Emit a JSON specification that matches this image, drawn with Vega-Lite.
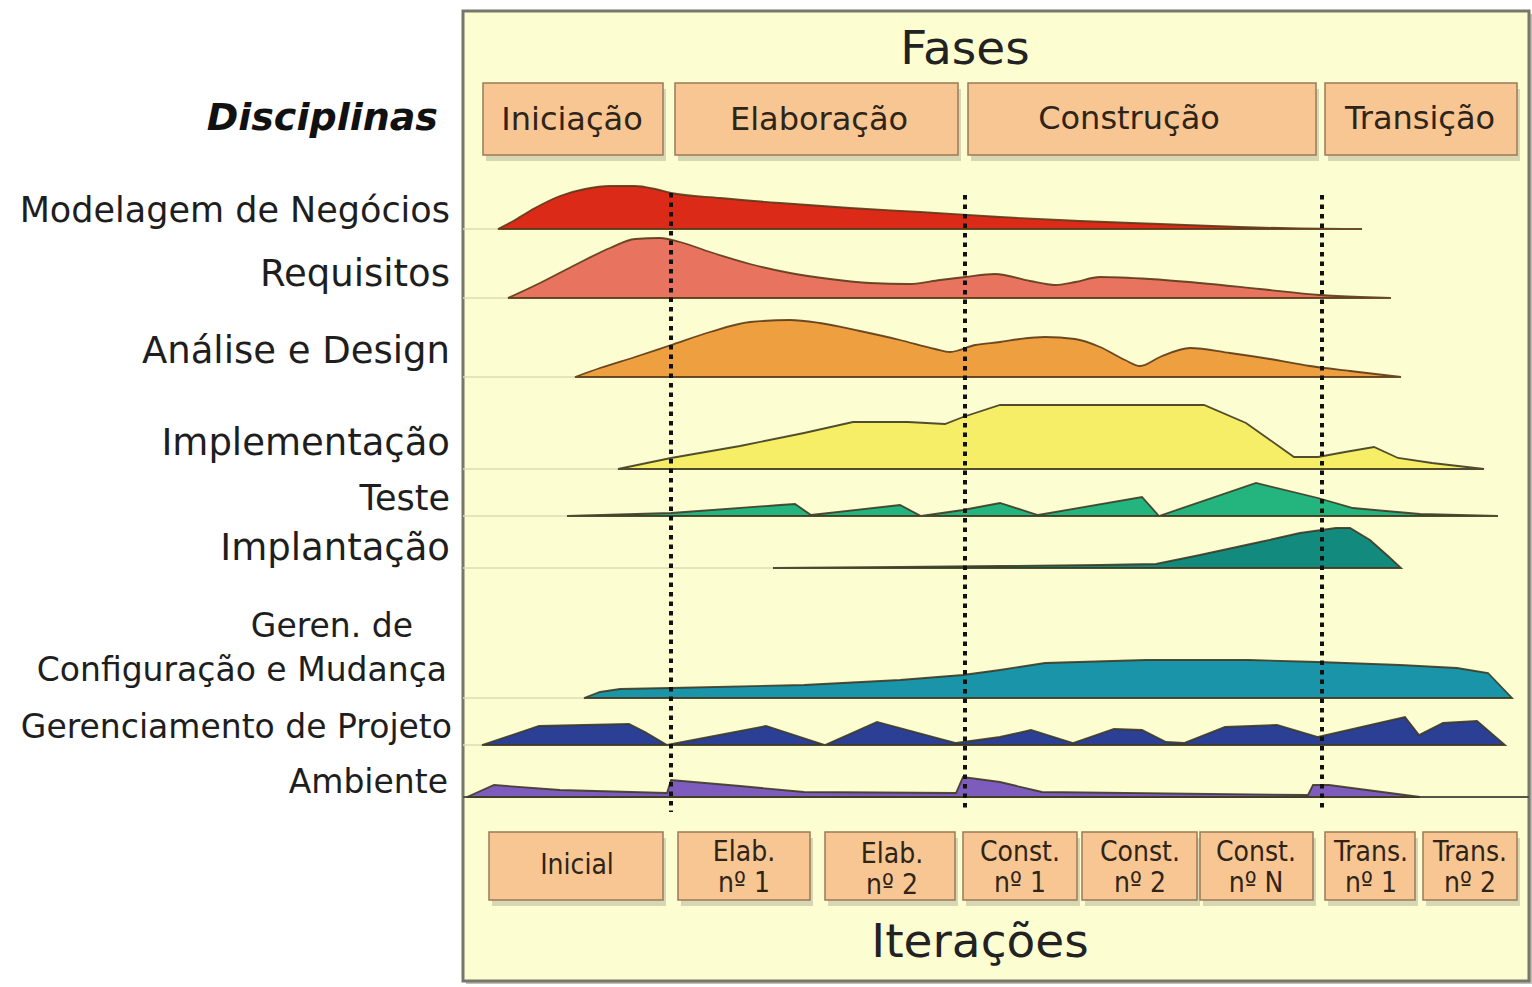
{
  "$schema": "https://vega.github.io/schema/vega-lite/v6.json",
  "width": 1532,
  "height": 987,
  "autosize": {"type": "fit", "contains": "padding"},
  "padding": 0,
  "background": "white",
  "config": {"view": {"stroke": null}},
  "datasets": {
    "frame": [{"t": 463, "t2": 1529, "v": 11, "v2": 981}],
    "separator": [{"t": 463, "t2": 1529, "v": 797}],
    "guides": [
      {"d": "MN", "t": 463, "t2": 498, "v": 229},
      {"d": "RQ", "t": 463, "t2": 508, "v": 298},
      {"d": "AD", "t": 463, "t2": 575, "v": 377},
      {"d": "IM", "t": 463, "t2": 618, "v": 469},
      {"d": "TE", "t": 463, "t2": 567, "v": 516},
      {"d": "IP", "t": 463, "t2": 773, "v": 568},
      {"d": "CM", "t": 463, "t2": 584, "v": 698},
      {"d": "GP", "t": 463, "t2": 482, "v": 745}
    ],
    "milestones": [
      {"t": 671, "v": 193, "v2": 812},
      {"t": 965, "v": 195, "v2": 812},
      {"t": 1322, "v": 195, "v2": 812}
    ],
    "boxes": [
      {"name": "Iniciação", "t": 483, "t2": 663, "v": 83, "v2": 155},
      {"name": "Elaboração", "t": 675, "t2": 958, "v": 83, "v2": 155},
      {"name": "Construção", "t": 968, "t2": 1316, "v": 83, "v2": 155},
      {"name": "Transição", "t": 1325, "t2": 1517, "v": 83, "v2": 155},
      {"name": "Inicial", "t": 489, "t2": 663, "v": 832, "v2": 900},
      {"name": "Elab. 1", "t": 678, "t2": 810, "v": 832, "v2": 900},
      {"name": "Elab. 2", "t": 825, "t2": 955, "v": 832, "v2": 900},
      {"name": "Const. 1", "t": 963, "t2": 1077, "v": 832, "v2": 900},
      {"name": "Const. 2", "t": 1082, "t2": 1197, "v": 832, "v2": 900},
      {"name": "Const. N", "t": 1200, "t2": 1313, "v": 832, "v2": 900},
      {"name": "Trans. 1", "t": 1325, "t2": 1415, "v": 832, "v2": 900},
      {"name": "Trans. 2", "t": 1423, "t2": 1517, "v": 832, "v2": 900}
    ],
    "areas": [
      {"d": "MN", "t": 498, "v": 229, "v2": 229},
      {"d": "MN", "t": 515, "v": 220, "v2": 229},
      {"d": "MN", "t": 535, "v": 208, "v2": 229},
      {"d": "MN", "t": 560, "v": 196, "v2": 229},
      {"d": "MN", "t": 585, "v": 189, "v2": 229},
      {"d": "MN", "t": 610, "v": 186, "v2": 229},
      {"d": "MN", "t": 635, "v": 186, "v2": 229},
      {"d": "MN", "t": 655, "v": 189, "v2": 229},
      {"d": "MN", "t": 671, "v": 193, "v2": 229},
      {"d": "MN", "t": 720, "v": 198, "v2": 229},
      {"d": "MN", "t": 780, "v": 203, "v2": 229},
      {"d": "MN", "t": 850, "v": 208, "v2": 229},
      {"d": "MN", "t": 920, "v": 212, "v2": 229},
      {"d": "MN", "t": 1000, "v": 217, "v2": 229},
      {"d": "MN", "t": 1080, "v": 221, "v2": 229},
      {"d": "MN", "t": 1160, "v": 224, "v2": 229},
      {"d": "MN", "t": 1240, "v": 227, "v2": 229},
      {"d": "MN", "t": 1300, "v": 228.5, "v2": 229},
      {"d": "MN", "t": 1362, "v": 229, "v2": 229},

      {"d": "RQ", "t": 508, "v": 298, "v2": 298},
      {"d": "RQ", "t": 540, "v": 283, "v2": 298},
      {"d": "RQ", "t": 575, "v": 265, "v2": 298},
      {"d": "RQ", "t": 610, "v": 248, "v2": 298},
      {"d": "RQ", "t": 635, "v": 239, "v2": 298},
      {"d": "RQ", "t": 660, "v": 238, "v2": 298},
      {"d": "RQ", "t": 680, "v": 242, "v2": 298},
      {"d": "RQ", "t": 710, "v": 252, "v2": 298},
      {"d": "RQ", "t": 750, "v": 264, "v2": 298},
      {"d": "RQ", "t": 790, "v": 273, "v2": 298},
      {"d": "RQ", "t": 830, "v": 279, "v2": 298},
      {"d": "RQ", "t": 870, "v": 283, "v2": 298},
      {"d": "RQ", "t": 910, "v": 284, "v2": 298},
      {"d": "RQ", "t": 940, "v": 280, "v2": 298},
      {"d": "RQ", "t": 965, "v": 277, "v2": 298},
      {"d": "RQ", "t": 995, "v": 274, "v2": 298},
      {"d": "RQ", "t": 1030, "v": 281, "v2": 298},
      {"d": "RQ", "t": 1055, "v": 285, "v2": 298},
      {"d": "RQ", "t": 1075, "v": 282, "v2": 298},
      {"d": "RQ", "t": 1100, "v": 277, "v2": 298},
      {"d": "RQ", "t": 1150, "v": 279, "v2": 298},
      {"d": "RQ", "t": 1200, "v": 283, "v2": 298},
      {"d": "RQ", "t": 1260, "v": 289, "v2": 298},
      {"d": "RQ", "t": 1320, "v": 295, "v2": 298},
      {"d": "RQ", "t": 1360, "v": 297, "v2": 298},
      {"d": "RQ", "t": 1391, "v": 298, "v2": 298},

      {"d": "AD", "t": 575, "v": 377, "v2": 377},
      {"d": "AD", "t": 600, "v": 368, "v2": 377},
      {"d": "AD", "t": 635, "v": 357, "v2": 377},
      {"d": "AD", "t": 671, "v": 345, "v2": 377},
      {"d": "AD", "t": 710, "v": 332, "v2": 377},
      {"d": "AD", "t": 750, "v": 322, "v2": 377},
      {"d": "AD", "t": 790, "v": 320, "v2": 377},
      {"d": "AD", "t": 820, "v": 323, "v2": 377},
      {"d": "AD", "t": 860, "v": 331, "v2": 377},
      {"d": "AD", "t": 900, "v": 340, "v2": 377},
      {"d": "AD", "t": 935, "v": 349, "v2": 377},
      {"d": "AD", "t": 950, "v": 352, "v2": 377},
      {"d": "AD", "t": 975, "v": 345, "v2": 377},
      {"d": "AD", "t": 1000, "v": 342, "v2": 377},
      {"d": "AD", "t": 1020, "v": 339, "v2": 377},
      {"d": "AD", "t": 1045, "v": 337, "v2": 377},
      {"d": "AD", "t": 1075, "v": 339, "v2": 377},
      {"d": "AD", "t": 1100, "v": 347, "v2": 377},
      {"d": "AD", "t": 1125, "v": 360, "v2": 377},
      {"d": "AD", "t": 1140, "v": 366, "v2": 377},
      {"d": "AD", "t": 1160, "v": 357, "v2": 377},
      {"d": "AD", "t": 1190, "v": 348, "v2": 377},
      {"d": "AD", "t": 1230, "v": 353, "v2": 377},
      {"d": "AD", "t": 1270, "v": 359, "v2": 377},
      {"d": "AD", "t": 1310, "v": 366, "v2": 377},
      {"d": "AD", "t": 1350, "v": 371, "v2": 377},
      {"d": "AD", "t": 1401, "v": 377, "v2": 377},

      {"d": "IM", "t": 618, "v": 469, "v2": 469},
      {"d": "IM", "t": 671, "v": 458, "v2": 469},
      {"d": "IM", "t": 740, "v": 446, "v2": 469},
      {"d": "IM", "t": 804, "v": 433, "v2": 469},
      {"d": "IM", "t": 853, "v": 422, "v2": 469},
      {"d": "IM", "t": 908, "v": 422, "v2": 469},
      {"d": "IM", "t": 945, "v": 424, "v2": 469},
      {"d": "IM", "t": 963, "v": 417, "v2": 469},
      {"d": "IM", "t": 1000, "v": 405, "v2": 469},
      {"d": "IM", "t": 1204, "v": 405, "v2": 469},
      {"d": "IM", "t": 1246, "v": 423, "v2": 469},
      {"d": "IM", "t": 1270, "v": 440, "v2": 469},
      {"d": "IM", "t": 1294, "v": 457, "v2": 469},
      {"d": "IM", "t": 1318, "v": 457, "v2": 469},
      {"d": "IM", "t": 1345, "v": 452, "v2": 469},
      {"d": "IM", "t": 1374, "v": 447, "v2": 469},
      {"d": "IM", "t": 1398, "v": 458, "v2": 469},
      {"d": "IM", "t": 1432, "v": 463, "v2": 469},
      {"d": "IM", "t": 1484, "v": 469, "v2": 469},

      {"d": "TE", "t": 567, "v": 516, "v2": 516},
      {"d": "TE", "t": 671, "v": 513, "v2": 516},
      {"d": "TE", "t": 780, "v": 505, "v2": 516},
      {"d": "TE", "t": 795, "v": 504, "v2": 516},
      {"d": "TE", "t": 811, "v": 515, "v2": 516},
      {"d": "TE", "t": 900, "v": 505, "v2": 516},
      {"d": "TE", "t": 921, "v": 516, "v2": 516},
      {"d": "TE", "t": 963, "v": 510, "v2": 516},
      {"d": "TE", "t": 1000, "v": 503, "v2": 516},
      {"d": "TE", "t": 1038, "v": 515, "v2": 516},
      {"d": "TE", "t": 1142, "v": 497, "v2": 516},
      {"d": "TE", "t": 1159, "v": 516, "v2": 516},
      {"d": "TE", "t": 1256, "v": 483, "v2": 516},
      {"d": "TE", "t": 1318, "v": 498, "v2": 516},
      {"d": "TE", "t": 1353, "v": 508, "v2": 516},
      {"d": "TE", "t": 1420, "v": 514, "v2": 516},
      {"d": "TE", "t": 1498, "v": 516, "v2": 516},

      {"d": "IP", "t": 773, "v": 568, "v2": 568},
      {"d": "IP", "t": 900, "v": 567, "v2": 568},
      {"d": "IP", "t": 1000, "v": 566, "v2": 568},
      {"d": "IP", "t": 1100, "v": 565, "v2": 568},
      {"d": "IP", "t": 1156, "v": 564, "v2": 568},
      {"d": "IP", "t": 1200, "v": 555, "v2": 568},
      {"d": "IP", "t": 1260, "v": 542, "v2": 568},
      {"d": "IP", "t": 1300, "v": 533, "v2": 568},
      {"d": "IP", "t": 1336, "v": 528, "v2": 568},
      {"d": "IP", "t": 1350, "v": 528, "v2": 568},
      {"d": "IP", "t": 1370, "v": 540, "v2": 568},
      {"d": "IP", "t": 1388, "v": 556, "v2": 568},
      {"d": "IP", "t": 1401, "v": 568, "v2": 568},

      {"d": "CM", "t": 584, "v": 698, "v2": 698},
      {"d": "CM", "t": 600, "v": 692, "v2": 698},
      {"d": "CM", "t": 620, "v": 689, "v2": 698},
      {"d": "CM", "t": 671, "v": 688, "v2": 698},
      {"d": "CM", "t": 804, "v": 685, "v2": 698},
      {"d": "CM", "t": 900, "v": 680, "v2": 698},
      {"d": "CM", "t": 963, "v": 675, "v2": 698},
      {"d": "CM", "t": 1000, "v": 670, "v2": 698},
      {"d": "CM", "t": 1045, "v": 663, "v2": 698},
      {"d": "CM", "t": 1146, "v": 660, "v2": 698},
      {"d": "CM", "t": 1249, "v": 660, "v2": 698},
      {"d": "CM", "t": 1318, "v": 662, "v2": 698},
      {"d": "CM", "t": 1400, "v": 665, "v2": 698},
      {"d": "CM", "t": 1457, "v": 668, "v2": 698},
      {"d": "CM", "t": 1488, "v": 673, "v2": 698},
      {"d": "CM", "t": 1512, "v": 698, "v2": 698},

      {"d": "GP", "t": 482, "v": 745, "v2": 745},
      {"d": "GP", "t": 539, "v": 726, "v2": 745},
      {"d": "GP", "t": 629, "v": 724, "v2": 745},
      {"d": "GP", "t": 645, "v": 732, "v2": 745},
      {"d": "GP", "t": 667, "v": 745, "v2": 745},
      {"d": "GP", "t": 766, "v": 726, "v2": 745},
      {"d": "GP", "t": 825, "v": 745, "v2": 745},
      {"d": "GP", "t": 877, "v": 722, "v2": 745},
      {"d": "GP", "t": 956, "v": 743, "v2": 745},
      {"d": "GP", "t": 1000, "v": 737, "v2": 745},
      {"d": "GP", "t": 1031, "v": 730, "v2": 745},
      {"d": "GP", "t": 1073, "v": 743, "v2": 745},
      {"d": "GP", "t": 1114, "v": 729, "v2": 745},
      {"d": "GP", "t": 1142, "v": 730, "v2": 745},
      {"d": "GP", "t": 1166, "v": 742, "v2": 745},
      {"d": "GP", "t": 1184, "v": 743, "v2": 745},
      {"d": "GP", "t": 1225, "v": 727, "v2": 745},
      {"d": "GP", "t": 1277, "v": 725, "v2": 745},
      {"d": "GP", "t": 1318, "v": 737, "v2": 745},
      {"d": "GP", "t": 1405, "v": 717, "v2": 745},
      {"d": "GP", "t": 1419, "v": 735, "v2": 745},
      {"d": "GP", "t": 1443, "v": 723, "v2": 745},
      {"d": "GP", "t": 1477, "v": 721, "v2": 745},
      {"d": "GP", "t": 1505, "v": 745, "v2": 745},

      {"d": "AM", "t": 467, "v": 797, "v2": 797},
      {"d": "AM", "t": 494, "v": 785, "v2": 797},
      {"d": "AM", "t": 560, "v": 790, "v2": 797},
      {"d": "AM", "t": 667, "v": 793, "v2": 797},
      {"d": "AM", "t": 671, "v": 780, "v2": 797},
      {"d": "AM", "t": 740, "v": 786, "v2": 797},
      {"d": "AM", "t": 804, "v": 792, "v2": 797},
      {"d": "AM", "t": 956, "v": 793, "v2": 797},
      {"d": "AM", "t": 963, "v": 777, "v2": 797},
      {"d": "AM", "t": 1000, "v": 782, "v2": 797},
      {"d": "AM", "t": 1042, "v": 792, "v2": 797},
      {"d": "AM", "t": 1308, "v": 795, "v2": 797},
      {"d": "AM", "t": 1313, "v": 785, "v2": 797},
      {"d": "AM", "t": 1329, "v": 785, "v2": 797},
      {"d": "AM", "t": 1405, "v": 795, "v2": 797},
      {"d": "AM", "t": 1420, "v": 797, "v2": 797}
    ],
    "texts": [
      {"label": "Fases", "kind": "title", "t": 965, "v": 50},
      {"label": "Iterações", "kind": "title", "t": 980, "v": 943},
      {"label": "Iniciação", "kind": "phase", "t": 572, "v": 120},
      {"label": "Elaboração", "kind": "phase", "t": 819, "v": 120},
      {"label": "Construção", "kind": "phase", "t": 1129, "v": 119},
      {"label": "Transição", "kind": "phase", "t": 1420, "v": 119},
      {"label": "Inicial", "kind": "iter", "t": 577, "v": 866},
      {"label": "Elab.", "kind": "iter", "t": 744, "v": 853},
      {"label": "nº 1", "kind": "iter", "t": 744, "v": 884},
      {"label": "Elab.", "kind": "iter", "t": 892, "v": 855},
      {"label": "nº 2", "kind": "iter", "t": 892, "v": 886},
      {"label": "Const.", "kind": "iter", "t": 1020, "v": 853},
      {"label": "nº 1", "kind": "iter", "t": 1020, "v": 884},
      {"label": "Const.", "kind": "iter", "t": 1140, "v": 853},
      {"label": "nº 2", "kind": "iter", "t": 1140, "v": 884},
      {"label": "Const.", "kind": "iter", "t": 1256, "v": 853},
      {"label": "nº N", "kind": "iter", "t": 1256, "v": 884},
      {"label": "Trans.", "kind": "iter", "t": 1371, "v": 853},
      {"label": "nº 1", "kind": "iter", "t": 1371, "v": 884},
      {"label": "Trans.", "kind": "iter", "t": 1470, "v": 853},
      {"label": "nº 2", "kind": "iter", "t": 1470, "v": 884},
      {"label": "Disciplinas", "kind": "header", "t": 438, "v": 119},
      {"label": "Modelagem de Negócios", "kind": "discA", "t": 450, "v": 211},
      {"label": "Requisitos", "kind": "discB", "t": 450, "v": 275},
      {"label": "Análise e Design", "kind": "discB", "t": 450, "v": 352},
      {"label": "Implementação", "kind": "discB", "t": 450, "v": 444},
      {"label": "Teste", "kind": "discA", "t": 450, "v": 499},
      {"label": "Implantação", "kind": "discB", "t": 450, "v": 549},
      {"label": "Geren. de", "kind": "discC", "t": 413, "v": 627},
      {"label": "Configuração e Mudança", "kind": "discC", "t": 447, "v": 671},
      {"label": "Gerenciamento de Projeto", "kind": "discC", "t": 452, "v": 728},
      {"label": "Ambiente", "kind": "discC", "t": 448, "v": 783}
    ]
  },
  "encoding": {
    "x": {"field": "t", "type": "quantitative", "scale": {"domain": [0, 1532], "nice": false, "zero": false}, "axis": null},
    "y": {"field": "v", "type": "quantitative", "scale": {"domain": [0, 987], "reverse": true, "nice": false, "zero": false}, "axis": null}
  },
  "layer": [
    {
      "data": {"name": "frame"},
      "mark": {"type": "rect", "fill": "#8c8c78", "opacity": 0.55, "xOffset": 3, "x2Offset": 3, "yOffset": 3, "y2Offset": 3},
      "encoding": {"x2": {"field": "t2"}, "y2": {"field": "v2"}}
    },
    {
      "data": {"name": "frame"},
      "mark": {"type": "rect", "fill": "#fdfdd2", "stroke": "#77776a", "strokeWidth": 3},
      "encoding": {"x2": {"field": "t2"}, "y2": {"field": "v2"}}
    },
    {
      "data": {"name": "guides"},
      "mark": {"type": "rule", "stroke": "#dcdcb4", "strokeWidth": 1.5},
      "encoding": {"x2": {"field": "t2"}}
    },
    {
      "data": {"name": "separator"},
      "mark": {"type": "rule", "stroke": "#55554a", "strokeWidth": 2},
      "encoding": {"x2": {"field": "t2"}}
    },
    {
      "data": {"name": "areas"},
      "transform": [{"filter": {"field": "d", "oneOf": ["MN", "RQ", "AD"]}}],
      "mark": {"type": "area", "interpolate": "monotone", "stroke": "#5a3a18", "strokeWidth": 1.8, "strokeOpacity": 0.9, "fillOpacity": 1},
      "encoding": {
        "y2": {"field": "v2"},
        "color": {"field": "d", "type": "nominal", "legend": null,
          "scale": {"domain": ["MN", "RQ", "AD", "IM", "TE", "IP", "CM", "GP", "AM"],
                    "range": ["#dc2a18", "#e8735e", "#eea040", "#f6ee66", "#24b47e", "#138a7e", "#1a94a8", "#2b4094", "#7d5cbd"]}}
      }
    },
    {
      "data": {"name": "areas"},
      "transform": [{"filter": {"field": "d", "oneOf": ["IM", "TE", "IP", "CM", "GP", "AM"]}}],
      "mark": {"type": "area", "interpolate": "linear", "stroke": "#3e3a22", "strokeWidth": 1.8, "strokeOpacity": 0.9, "fillOpacity": 1},
      "encoding": {
        "y2": {"field": "v2"},
        "color": {"field": "d", "type": "nominal", "legend": null,
          "scale": {"domain": ["MN", "RQ", "AD", "IM", "TE", "IP", "CM", "GP", "AM"],
                    "range": ["#dc2a18", "#e8735e", "#eea040", "#f6ee66", "#24b47e", "#138a7e", "#1a94a8", "#2b4094", "#7d5cbd"]}}
      }
    },
    {
      "data": {"name": "milestones"},
      "mark": {"type": "rule", "stroke": "#111111", "strokeWidth": 4, "strokeDash": [4.5, 5]},
      "encoding": {"y2": {"field": "v2"}}
    },
    {
      "data": {"name": "boxes"},
      "mark": {"type": "rect", "fill": "#a8a890", "opacity": 0.45, "xOffset": 3, "x2Offset": 3, "yOffset": 6, "y2Offset": 6},
      "encoding": {"x2": {"field": "t2"}, "y2": {"field": "v2"}}
    },
    {
      "data": {"name": "boxes"},
      "mark": {"type": "rect", "fill": "#f8c692", "stroke": "#9a7a58", "strokeWidth": 1.5},
      "encoding": {"x2": {"field": "t2"}, "y2": {"field": "v2"}}
    },
    {
      "data": {"name": "texts"},
      "transform": [{"filter": {"field": "kind", "equal": "title"}}],
      "mark": {"type": "text", "font": "DejaVu Sans", "fontSize": 47, "align": "center", "baseline": "middle", "color": "#222222"},
      "encoding": {"text": {"field": "label"}}
    },
    {
      "data": {"name": "texts"},
      "transform": [{"filter": {"field": "kind", "equal": "phase"}}],
      "mark": {"type": "text", "font": "DejaVu Sans", "fontSize": 32, "align": "center", "baseline": "middle", "color": "#2e2418"},
      "encoding": {"text": {"field": "label"}}
    },
    {
      "data": {"name": "texts"},
      "transform": [{"filter": {"field": "kind", "equal": "iter"}}],
      "mark": {"type": "text", "font": "DejaVu Sans Condensed, DejaVu Sans", "fontSize": 28, "align": "center", "baseline": "middle", "color": "#2e2418"},
      "encoding": {"text": {"field": "label"}}
    },
    {
      "data": {"name": "texts"},
      "transform": [{"filter": {"field": "kind", "equal": "header"}}],
      "mark": {"type": "text", "font": "DejaVu Sans", "fontWeight": "bold", "fontStyle": "italic", "fontSize": 38, "align": "right", "baseline": "middle", "color": "#111111"},
      "encoding": {"text": {"field": "label"}}
    },
    {
      "data": {"name": "texts"},
      "transform": [{"filter": {"field": "kind", "equal": "discA"}}],
      "mark": {"type": "text", "font": "DejaVu Sans", "fontSize": 35, "align": "right", "baseline": "middle", "color": "#1e1e1e"},
      "encoding": {"text": {"field": "label"}}
    },
    {
      "data": {"name": "texts"},
      "transform": [{"filter": {"field": "kind", "equal": "discB"}}],
      "mark": {"type": "text", "font": "DejaVu Sans", "fontSize": 37, "align": "right", "baseline": "middle", "color": "#1e1e1e"},
      "encoding": {"text": {"field": "label"}}
    },
    {
      "data": {"name": "texts"},
      "transform": [{"filter": {"field": "kind", "equal": "discC"}}],
      "mark": {"type": "text", "font": "DejaVu Sans", "fontSize": 33, "align": "right", "baseline": "middle", "color": "#1e1e1e"},
      "encoding": {"text": {"field": "label"}}
    }
  ]
}
